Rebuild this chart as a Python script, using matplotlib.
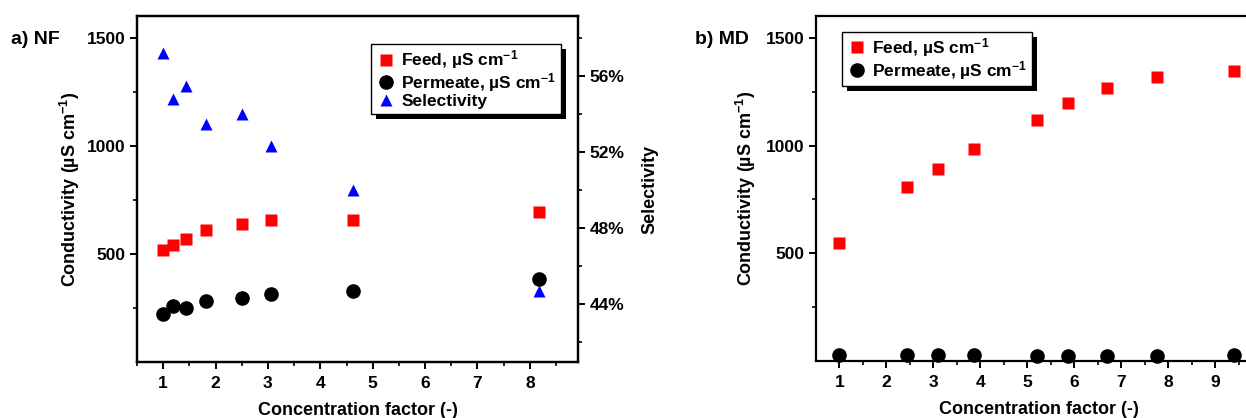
import matplotlib
matplotlib.use("Agg")
import matplotlib.pyplot as plt
from matplotlib.patches import Shadow
from matplotlib.ticker import MultipleLocator, FixedLocator, PercentFormatter

plt.rcParams["font.family"] = ["Liberation Sans", "DejaVu Sans"]
plt.rcParams["font.weight"] = "bold"
plt.rcParams["axes.labelweight"] = "bold"
plt.rcParams["mathtext.fontset"] = "custom"
plt.rcParams["mathtext.rm"] = "Liberation Sans:bold"
plt.rcParams["mathtext.bf"] = "Liberation Sans:bold"
plt.rcParams["mathtext.default"] = "bf"

# panel a: nanofiltration
nf_cf = [1.0, 1.18, 1.43, 1.82, 2.5, 3.05, 4.63, 8.18]
nf_feed = [519, 542, 569, 611, 639, 657, 657, 694]
nf_perm = [222, 259, 250, 282, 296, 315, 329, 384]
nf_sel = [57.2, 54.8, 55.5, 53.5, 54.0, 52.3, 50.0, 44.7]

# panel b: membrane distillation
md_cf = [1.0, 2.43, 3.09, 3.86, 5.21, 5.87, 6.70, 7.77, 9.40]
md_feed = [546, 806, 893, 986, 1120, 1199, 1269, 1319, 1347]
md_perm = [26, 26, 28, 27, 25, 22, 24, 24, 27]

feed_lbl = r"Feed, µS cm$^{-1}$"
perm_lbl = r"Permeate, µS cm$^{-1}$"
ylab = r"Conductivity (µS cm$^{-1}$)"
xlab = "Concentration factor (-)"

W, H = 1246, 418
fig = plt.figure(figsize=(W / 100, H / 100), dpi=100)


def px_axes(l, t, r, b):
    return fig.add_axes([l / W, 1 - b / H, (r - l) / W, (b - t) / H])


def style(ax):
    for s in ax.spines.values():
        s.set_linewidth(1.6)
    ax.tick_params(which="major", direction="out", length=5, width=1.4, labelsize=12.5)
    ax.tick_params(which="minor", direction="out", length=3, width=1.2)
    ax.tick_params(axis="x", which="major", pad=5)


def legend_on(ax, handles, **kw):
    leg = ax.legend(handles=handles, fontsize=12.5, frameon=True, fancybox=False,
                    framealpha=1, facecolor="white",
                    borderpad=0.25, labelspacing=0.0, handletextpad=0.3,
                    handlelength=1.2, borderaxespad=0, **kw)
    leg.get_frame().set_edgecolor("black")
    leg.get_frame().set_linewidth(1.0)
    leg.set_zorder(10)
    return leg


# ---- a) NF
ax = px_axes(137, 16, 578, 362)
ax2 = ax.twinx()
h1, = ax.plot(nf_cf, nf_feed, "s", color="#ff0000", ms=9, mec="none", label=feed_lbl)
h2, = ax.plot(nf_cf, nf_perm, "o", color="black", ms=9.5, label=perm_lbl)
h3, = ax2.plot(nf_cf, nf_sel, "^", color="#0000ff", ms=9, mec="none", label="Selectivity")
ax.set_xlim(0.5, 8.92)
ax.set_ylim(0, 1602)
ax.xaxis.set_major_locator(MultipleLocator(1))
ax.xaxis.set_minor_locator(MultipleLocator(0.5))
ax.yaxis.set_major_locator(FixedLocator([500, 1000, 1500]))
ax.yaxis.set_minor_locator(FixedLocator([250, 750, 1250]))
ax2.set_ylim(40.95, 59.16)
ax2.yaxis.set_major_locator(FixedLocator([44, 48, 52, 56]))
ax2.yaxis.set_minor_locator(FixedLocator([42, 46, 50, 54, 58]))
ax2.yaxis.set_major_formatter(PercentFormatter(xmax=100, decimals=0))
style(ax)
style(ax2)
ax.set_xlabel(xlab, fontsize=13, labelpad=8)
ax.set_ylabel(ylab, fontsize=13, labelpad=3.5)
ax2.set_ylabel("Selectivity", fontsize=13, labelpad=12)
leg_a = legend_on(ax2, [h1, h2, h3], loc="upper right", bbox_to_anchor=(0.961, 0.919))
fig.text(11 / W, 1 - 40 / H, "a) NF", fontsize=14, va="center")

# ---- b) MD
bx = px_axes(816, 16, 1262, 361)
g1, = bx.plot(md_cf, md_feed, "s", color="#ff0000", ms=9, mec="none", label=feed_lbl)
g2, = bx.plot(md_cf, md_perm, "o", color="black", ms=9.5, label=perm_lbl, clip_on=False)
bx.set_xlim(0.5, 10.0)
bx.set_ylim(0, 1602)
bx.xaxis.set_major_locator(FixedLocator(range(1, 10)))
bx.xaxis.set_minor_locator(FixedLocator([1.5 + i for i in range(9)]))
bx.yaxis.set_major_locator(FixedLocator([500, 1000, 1500]))
bx.yaxis.set_minor_locator(FixedLocator([250, 750, 1250]))
style(bx)
bx.set_xlabel(xlab, fontsize=13, labelpad=8)
bx.set_ylabel(ylab, fontsize=13, labelpad=5)
leg_b = legend_on(bx, [g1, g2], loc="upper left", bbox_to_anchor=(0.058, 0.954))
fig.text(695 / W, 1 - 40 / H, "b) MD", fontsize=14, va="center")

# solid drop shadows behind the legend boxes (needs legend bounds from a first draw)
fig.canvas.draw()
for a, leg in [(ax2, leg_a), (bx, leg_b)]:
    sh = Shadow(leg.legendPatch, 3.6, -3.6, color="black", alpha=1, linewidth=0)
    sh.set_zorder(9.9)
    a.add_artist(sh)

fig.savefig("out.png", dpi=100)
